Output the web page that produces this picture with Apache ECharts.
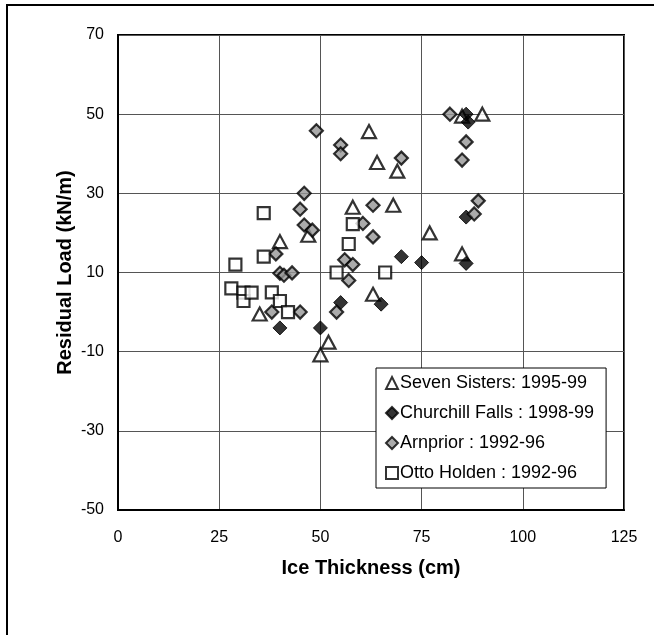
<!DOCTYPE html>
<html>
<head>
<meta charset="utf-8">
<script src="https://cdn.jsdelivr.net/npm/echarts@6/dist/echarts.min.js"></script>
<style>
html,body{margin:0;padding:0;background:#fff;}
#chart{width:654px;height:635px;}
</style>
</head>
<body>
<div id="chart"></div>
<script>
// Data: [ice thickness (cm), residual load (kN/m)]
const sevenSisters = [
  [35,-0.5],[40,17.8],[47,19.4],[50,-10.8],[52,-7.6],[58,26.5],[62,45.6],[63,4.5],
  [64,37.8],[68,27],[69,35.6],[77,20],[85,14.7],[85,49.5],[90,50]
];
const churchillFalls = [
  [40,-4],[50,-4],[55,2.4],[65,2],[70,14],[75,12.5],[86,24],[86,12.3],[86,50],[86.5,48]
];
const arnprior = [
  [38,0],[39,14.7],[40,9.8],[41,9.3],[43,9.9],[45,0],[45,26],[46,30],[46,22],[48,20.7],
  [49,45.8],[54,0],[55,42.2],[55,40],[56,13.2],[57,8],[58,12],[60.5,22.4],[63,27],[63,19],
  [70,38.9],[82,50],[85,38.4],[86,43],[88,24.8],[89,28.1]
];
const ottoHolden = [
  [28,6],[29,12],[31,4.9],[31,2.8],[33,4.9],[36,25],[36,14],[38,5],[40,2.8],[42,0],
  [54,10],[57,17.2],[58,22.2],[66,10]
];
const seriesNames = ['Seven Sisters: 1995-99','Churchill Falls : 1998-99','Arnprior : 1992-96','Otto Holden : 1992-96'];
const xTicks = {min:0, max:125, interval:25};
const yTicks = {min:-50, max:70, interval:20};

const chart = echarts.init(document.getElementById('chart'), null, {renderer:'canvas'});
const font = 'Liberation Sans, Arial, sans-serif';
chart.setOption({
  animation:false,
  backgroundColor:'#fff',
  textStyle:{fontFamily:font},
  grid:{left:118, top:35, right:30, bottom:125, show:true, borderColor:'#000', borderWidth:2, backgroundColor:'transparent'},
  xAxis:{
    type:'value', min:xTicks.min, max:xTicks.max, interval:xTicks.interval,
    name:'Ice Thickness (cm)', nameLocation:'middle', nameGap:48, nameMoveOverlap:false,
    nameTextStyle:{fontFamily:font, fontSize:20, fontWeight:'bold', color:'#000'},
    axisLine:{show:true, onZero:false, lineStyle:{color:'#000', width:2}},
    axisTick:{show:false},
    axisLabel:{fontFamily:font, fontSize:16, color:'#000', margin:20},
    splitLine:{show:true, lineStyle:{color:'#555', width:1}}
  },
  yAxis:{
    type:'value', min:yTicks.min, max:yTicks.max, interval:yTicks.interval,
    name:'Residual Load (kN/m)', nameLocation:'middle', nameGap:43, nameRotate:90, nameMoveOverlap:false,
    nameTextStyle:{fontFamily:font, fontSize:20, fontWeight:'bold', color:'#000'},
    axisLine:{show:true, onZero:false, lineStyle:{color:'#000', width:2}},
    axisTick:{show:false},
    axisLabel:{fontFamily:font, fontSize:16, color:'#000', margin:14},
    splitLine:{show:true, lineStyle:{color:'#555', width:1}}
  },
  legend:{
    orient:'vertical', left:376, top:368,
    backgroundColor:'#fff', borderColor:'#000', borderWidth:1,
    padding:[6,12,6,9], itemGap:12, itemWidth:12, itemHeight:12,
    textStyle:{fontFamily:font, fontSize:18, color:'#000', padding:[0,0,0,-3]},
    data:seriesNames
  },
  series:[
    {name:seriesNames[0], type:'scatter', data:sevenSisters, symbol:'triangle', symbolSize:[14,13],
     itemStyle:{color:'#fff', borderColor:'#000', borderWidth:2.2}},
    {name:seriesNames[1], type:'scatter', data:churchillFalls, symbol:'diamond', symbolSize:14,
     itemStyle:{color:'#000', borderColor:'#000', borderWidth:1}},
    {name:seriesNames[2], type:'scatter', data:arnprior, symbol:'diamond', symbolSize:13,
     itemStyle:{color:'#969696', borderColor:'#000', borderWidth:2.2}},
    {name:seriesNames[3], type:'scatter', data:ottoHolden, symbol:'rect', symbolSize:12,
     itemStyle:{color:'#fff', borderColor:'#000', borderWidth:2.2}}
  ],
  graphic:[
    {type:'line', shape:{x1:6, y1:5, x2:654, y2:5}, style:{stroke:'#000', lineWidth:2}, silent:true},
    {type:'line', shape:{x1:7, y1:4, x2:7, y2:635}, style:{stroke:'#000', lineWidth:2}, silent:true}
  ]
});
</script>
</body>
</html>
